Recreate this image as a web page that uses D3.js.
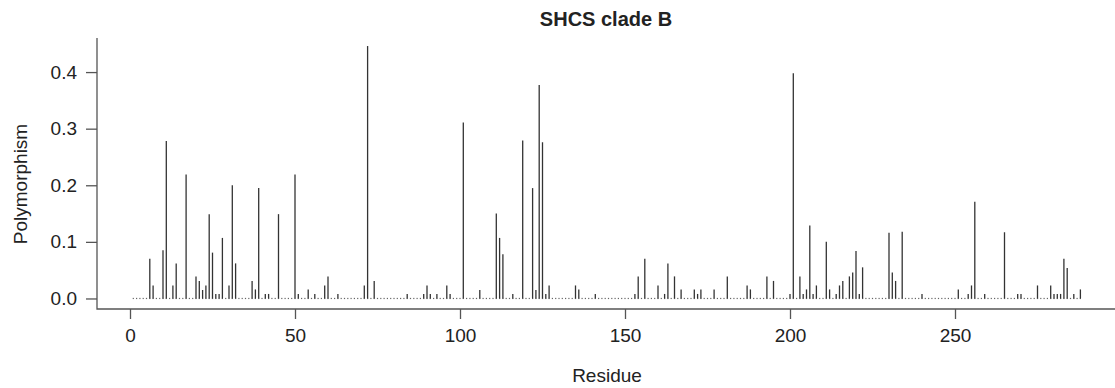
<!DOCTYPE html>
<html>
<head>
<meta charset="utf-8">
<script src="https://cdn.jsdelivr.net/npm/d3@7"></script>
<style>
  html, body { margin: 0; padding: 0; background: #fff; }
  svg { display: block; }
  text { font-family: "Liberation Sans", Arial, Helvetica, sans-serif; fill: #222; }
</style>
</head>
<body>
<svg id="chart" width="1115" height="388"></svg>
<script>
// ---- data ----
const title = "SHCS clade B";
const xLabel = "Residue";
const yLabel = "Polymorphism";
const nResidues = 288;
const residues = [6,7,10,11,13,14,17,20,21,22,23,24,25,26,27,28,30,31,32,37,38,39,41,42,45,50,51,54,56,59,60,63,71,72,74,84,89,90,91,93,96,97,101,106,111,112,113,116,119,122,123,124,125,126,127,135,136,141,153,154,156,160,162,163,165,167,171,172,173,177,181,187,188,193,195,200,201,203,204,205,206,207,208,211,212,214,215,216,218,219,220,221,222,230,231,232,234,240,251,254,255,256,259,265,269,270,275,279,280,281,282,283,284,286,288];
const polymorphism = [0.070,0.023,0.085,0.278,0.023,0.062,0.219,0.039,0.031,0.015,0.023,0.149,0.081,0.008,0.008,0.107,0.023,0.200,0.062,0.031,0.016,0.195,0.008,0.008,0.149,0.219,0.008,0.016,0.008,0.023,0.039,0.008,0.023,0.446,0.031,0.008,0.008,0.023,0.008,0.008,0.023,0.008,0.311,0.015,0.150,0.107,0.078,0.008,0.279,0.195,0.015,0.377,0.276,0.008,0.023,0.023,0.016,0.008,0.008,0.039,0.070,0.023,0.008,0.062,0.039,0.016,0.016,0.008,0.016,0.016,0.039,0.023,0.016,0.039,0.031,0.008,0.398,0.039,0.008,0.016,0.129,0.008,0.023,0.100,0.016,0.008,0.023,0.031,0.039,0.046,0.084,0.008,0.055,0.116,0.046,0.031,0.118,0.008,0.016,0.008,0.023,0.171,0.008,0.117,0.008,0.008,0.023,0.023,0.008,0.008,0.008,0.070,0.054,0.008,0.016];
const xTicks = [0, 50, 100, 150, 200, 250];
const yTicks = [0.0, 0.1, 0.2, 0.3, 0.4];

// ---- layout ----
const svg = d3.select("#chart");
const mLeft = 97, mRight = 1120, mTop = 38, mBottom = 309;
const x = d3.scaleLinear().domain([-10, 300]).range([mLeft, mRight]);
const y = d3.scaleLinear().domain([-0.0186, 0.4602]).range([mBottom, mTop]);
const axisColor = "#555";

// baseline dots (one per residue)
svg.append("g")
  .selectAll("rect")
  .data(d3.range(1, nResidues + 1))
  .join("rect")
  .attr("x", d => x(d) - 0.6)
  .attr("y", y(0) - 0.6)
  .attr("width", 1.2)
  .attr("height", 1.2)
  .attr("fill", "#666");

// bars (type = "h")
const data = residues.map((r, i) => ({ r, v: polymorphism[i] }));
svg.append("g")
  .selectAll("line")
  .data(data)
  .join("line")
  .attr("x1", d => x(d.r)).attr("x2", d => x(d.r))
  .attr("y1", y(0)).attr("y2", d => y(d.v))
  .attr("stroke", "#333")
  .attr("stroke-width", 1.3);

// L-shaped box
svg.append("path")
  .attr("d", `M${mLeft},${mTop}V${mBottom}H${mRight}`)
  .attr("fill", "none")
  .attr("stroke", axisColor)
  .attr("stroke-width", 1.3);

// x axis
const gx = svg.append("g")
  .attr("transform", `translate(0,${mBottom})`)
  .call(d3.axisBottom(x).tickValues(xTicks).tickSize(10).tickPadding(10).tickFormat(d3.format("d")));
gx.select(".domain").remove();
gx.selectAll(".tick line").attr("stroke", axisColor).attr("stroke-width", 1.3);
gx.selectAll(".tick text").attr("font-size", 19).attr("fill", "#222")
  .attr("font-family", "'Liberation Sans', Arial, sans-serif");

// y axis
const gy = svg.append("g")
  .attr("transform", `translate(${mLeft},0)`)
  .call(d3.axisLeft(y).tickValues(yTicks).tickSize(11).tickPadding(9).tickFormat(d3.format(".1f")));
gy.select(".domain").remove();
gy.selectAll(".tick line").attr("stroke", axisColor).attr("stroke-width", 1.3);
gy.selectAll(".tick text").attr("font-size", 19).attr("fill", "#222")
  .attr("font-family", "'Liberation Sans', Arial, sans-serif");

// titles
svg.append("text")
  .attr("x", 606).attr("y", 26)
  .attr("text-anchor", "middle")
  .attr("font-size", 20).attr("font-weight", "bold")
  .text(title);

svg.append("text")
  .attr("x", 607).attr("y", 382)
  .attr("text-anchor", "middle")
  .attr("font-size", 19)
  .text(xLabel);

svg.append("text")
  .attr("transform", "translate(27,184) rotate(-90)")
  .attr("text-anchor", "middle")
  .attr("font-size", 19)
  .text(yLabel);
</script>
</body>
</html>
